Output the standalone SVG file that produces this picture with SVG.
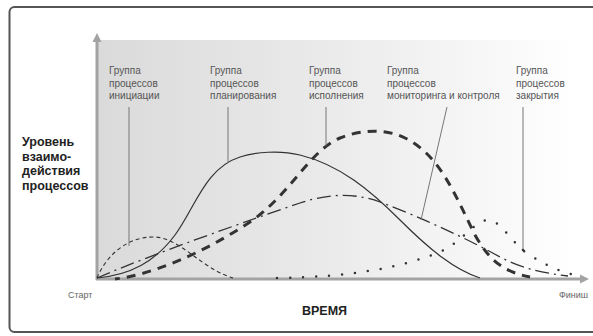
<svg xmlns="http://www.w3.org/2000/svg" width="593" height="336" viewBox="0 0 593 336">
<style>
.lbl{font-family:"Liberation Sans",Arial,sans-serif;font-size:10px;fill:#555}
.ylbl{font-family:"Liberation Sans",Arial,sans-serif;font-size:12.5px;font-weight:bold;fill:#222}
.small{font-family:"Liberation Sans",Arial,sans-serif;font-size:9px;fill:#666}
.leader{stroke:#777;stroke-width:1;fill:none}
.axis{stroke:#a3a3a3;stroke-width:3;fill:none}
.c{fill:none;stroke:#333}
</style>
<defs>
<linearGradient id="bg" x1="97" y1="0" x2="580" y2="0" gradientUnits="userSpaceOnUse">
<stop offset="0" stop-color="#dadada"/>
<stop offset="0.5" stop-color="#ebebeb"/>
<stop offset="1" stop-color="#ffffff"/>
</linearGradient>
</defs>
<rect x="9.5" y="7" width="600" height="325" rx="5" fill="#fff" stroke="#555" stroke-width="2"/>
<rect x="97" y="40" width="485" height="240" fill="url(#bg)"/>
<g id="axes">
<line class="axis" x1="97" y1="280" x2="97" y2="41"/>
<polygon points="97,33 92.5,42 101.5,42" fill="#a3a3a3"/>
<line class="axis" x1="96" y1="279" x2="580" y2="279"/>
<polygon points="589,279 580,274.5 580,283.5" fill="#a3a3a3"/>
</g>
<g id="y-label">
<text class="ylbl" x="22" y="146">Уровень</text>
<text class="ylbl" x="22" y="160.5">взаимо-</text>
<text class="ylbl" x="22" y="175">действия</text>
<text class="ylbl" x="22" y="189.5">процессов</text>
</g>
<text class="small" x="68" y="298">Старт</text>
<text class="small" x="559" y="298">Финиш</text>
<text class="ylbl" x="302" y="315">ВРЕМЯ</text>
<g id="curves">
<path id="initiation" class="c" stroke-width="1.1" stroke-dasharray="4 3" d="M97,278 C105,258 125,237 153,237 C180,237 200,268 233,278"/>
<path id="planning" class="c" stroke-width="1.2" d="M97,278 C130,275 155,262 175,235 C195,208 205,168 240,157 C255,152 280,150 300,155 C340,165 370,190 400,220 C430,250 455,270 480,278"/>
<path id="execution" class="c" stroke-width="3" stroke-dasharray="9 7" stroke-dashoffset="-12" d="M115,279 C150,275 200,255 250,222 C290,195 310,150 340,138 C360,130 385,128 405,138 C440,155 455,195 475,235 C490,262 505,272 530,277"/>
<path id="monitoring" class="c" stroke-width="1.3" stroke-dasharray="14 5 2 5" d="M97,278 C150,255 250,220 300,203 C330,193 355,193 380,202 C420,217 470,240 500,257 C525,270 545,273 568,276"/>
<path id="closing" class="c" stroke-width="2.5" stroke-linecap="round" stroke-dasharray="0 13" d="M277,278 C350,277 400,268 440,252 C465,240 475,220 488,220 C500,220 510,240 525,252 C545,265 560,272 575,275"/>
</g>
<g id="connectors">
<line class="leader" x1="129" y1="107" x2="129" y2="246"/>
<line class="leader" x1="228" y1="107" x2="228" y2="163"/>
<line class="leader" x1="326" y1="107" x2="326" y2="146"/>
<line class="leader" x1="447" y1="107" x2="421" y2="220"/>
<line class="leader" x1="523" y1="107" x2="523" y2="250"/>
<circle cx="523" cy="250" r="1.3" fill="#333"/>
</g>
<g id="node-initiation">
<text class="lbl" x="109" y="74">Группа</text>
<text class="lbl" x="109" y="86.5">процессов</text>
<text class="lbl" x="109" y="99">инициации</text>
</g>
<g id="node-planning">
<text class="lbl" x="210" y="74">Группа</text>
<text class="lbl" x="210" y="86.5">процессов</text>
<text class="lbl" x="210" y="99">планирования</text>
</g>
<g id="node-execution">
<text class="lbl" x="309" y="74">Группа</text>
<text class="lbl" x="309" y="86.5">процессов</text>
<text class="lbl" x="309" y="99">исполнения</text>
</g>
<g id="node-monitoring">
<text class="lbl" x="387" y="74">Группа</text>
<text class="lbl" x="387" y="86.5">процессов</text>
<text class="lbl" x="387" y="99">мониторинга и контроля</text>
</g>
<g id="node-closing">
<text class="lbl" x="516" y="74">Группа</text>
<text class="lbl" x="516" y="86.5">процессов</text>
<text class="lbl" x="516" y="99">закрытия</text>
</g>
</svg>
